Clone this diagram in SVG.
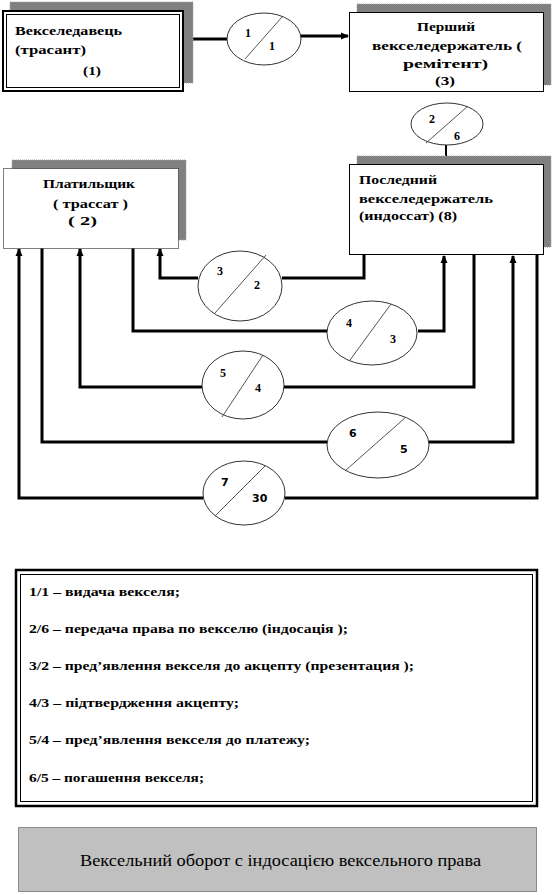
<svg xmlns="http://www.w3.org/2000/svg" width="554" height="895" viewBox="0 0 554 895">
<style>
.shadow{fill:#808080;stroke:#a0a0a0;stroke-width:1;stroke-dasharray:1 1}
.box{fill:#fff;stroke:#000;stroke-width:1}
.t{font-family:'Liberation Serif','DejaVu Serif',serif;font-weight:bold;font-size:13px;fill:#000}
.n{font-family:'Liberation Serif','DejaVu Serif',serif;font-weight:bold;font-size:12px;fill:#000}
.ns{font-family:'DejaVu Sans','Liberation Sans',sans-serif;font-weight:bold;font-size:11px;fill:#000}
.ell{fill:#fff;stroke:#333;stroke-width:1}
.diag{stroke:#555;stroke-width:1}
.con{fill:none;stroke:#000;stroke-width:3}
.lg{font-family:'Liberation Serif','DejaVu Serif',serif;font-weight:bold;font-size:13px;fill:#000}
.tt{font-family:'Liberation Serif','DejaVu Serif',serif;font-size:16px;fill:#000}
</style>
<defs>
<marker id="arr" markerWidth="8" markerHeight="8" refX="7" refY="4" orient="auto" markerUnits="userSpaceOnUse">
<path d="M0,0.5 L8,4 L0,7.5 Z" fill="#000"/>
</marker>
</defs>
<rect width="554" height="895" fill="#fff"/>

<g id="connectors">
<path class="con" d="M184,39 H228"/>
<path class="con" d="M300,36 H348" marker-end="url(#arr)"/>
<path class="con" d="M446,145 V163" style="stroke-width:2" marker-end="url(#arr)"/>
<path class="con" d="M364,255 V278 H282"/>
<path class="con" d="M198,278 H160 V249" marker-end="url(#arr)"/>
<path class="con" d="M133,248 V331 H327"/>
<path class="con" d="M418,331 H444 V256" marker-end="url(#arr)"/>
<path class="con" d="M474,255 V387 H284"/>
<path class="con" d="M202,387 H80 V249" marker-end="url(#arr)"/>
<path class="con" d="M42,248 V442 H327"/>
<path class="con" d="M429,442 H513 V256" marker-end="url(#arr)"/>
<path class="con" d="M537,255 V498 H285"/>
<path class="con" d="M203,498 H19 V249" marker-end="url(#arr)"/>
</g>

<g id="n1">
<rect class="shadow" x="10" y="2" width="183" height="81"/>
<rect x="3" y="11" width="180" height="80" fill="#fff" stroke="#000" stroke-width="2"/>
<rect x="6.5" y="14.5" width="173" height="73" fill="none" stroke="#000" stroke-width="1"/>
<text class="t" x="15" y="35" textLength="107" lengthAdjust="spacingAndGlyphs">Векселедавець</text>
<text class="t" x="15" y="54" textLength="71" lengthAdjust="spacingAndGlyphs">(трасант)</text>
<text class="t" x="83" y="75" textLength="18" lengthAdjust="spacingAndGlyphs">(1)</text>
</g>

<g id="n3">
<rect class="shadow" x="357" y="4" width="194" height="81"/>
<rect class="box" x="349.5" y="12.5" width="194" height="79"/>
<text class="t" x="417" y="31" textLength="58" lengthAdjust="spacingAndGlyphs">Перший</text>
<text class="t" x="372" y="50" textLength="150" lengthAdjust="spacingAndGlyphs">векселедержатель  (</text>
<text class="t" x="403" y="68" textLength="85" lengthAdjust="spacingAndGlyphs">ремітент)</text>
<text class="t" x="435" y="85" textLength="20" lengthAdjust="spacingAndGlyphs">(3)</text>
</g>

<g id="n2">
<rect class="shadow" x="12" y="160" width="174" height="80"/>
<rect x="3.5" y="168.5" width="175" height="80" fill="#fff" stroke="#000" stroke-width="1" stroke-dasharray="1 1"/>
<text class="t" x="43" y="188" textLength="92" lengthAdjust="spacingAndGlyphs">Платильщик</text>
<text class="t" x="53" y="208" textLength="75" lengthAdjust="spacingAndGlyphs">( трассат )</text>
<text class="t" x="68" y="225" textLength="29" lengthAdjust="spacingAndGlyphs">( 2)</text>
</g>

<g id="n8">
<rect class="shadow" x="357" y="156" width="194" height="91"/>
<rect class="box" x="349.5" y="164.5" width="194" height="90"/>
<text class="t" x="359" y="184" textLength="78" lengthAdjust="spacingAndGlyphs">Последний</text>
<text class="t" x="359" y="203" textLength="134" lengthAdjust="spacingAndGlyphs">векселедержатель</text>
<text class="t" x="359" y="220" textLength="98" lengthAdjust="spacingAndGlyphs">(индоссат) (8)</text>
</g>

<g id="e11">
<ellipse class="ell" cx="264" cy="39" rx="37" ry="26"/>
<line class="diag" x1="245" y1="59" x2="282" y2="17"/>
<text class="n" x="245" y="37">1</text>
<text class="n" x="269" y="50">1</text>
</g>
<g id="e26">
<ellipse class="ell" cx="447" cy="124" rx="36" ry="21"/>
<line class="diag" x1="426" y1="143" x2="468" y2="106"/>
<text class="n" x="429" y="123">2</text>
<text class="n" x="454" y="140">6</text>
</g>
<g id="e32">
<ellipse class="ell" cx="240" cy="286" rx="42" ry="35"/>
<line class="diag" x1="215" y1="313" x2="266" y2="255"/>
<text class="n" x="217" y="275">3</text>
<text class="n" x="254" y="289">2</text>
</g>
<g id="e43">
<ellipse class="ell" cx="372" cy="333" rx="45" ry="32"/>
<line class="diag" x1="350" y1="360" x2="391" y2="304"/>
<text class="n" x="346" y="327">4</text>
<text class="n" x="390" y="343">3</text>
</g>
<g id="e54">
<ellipse class="ell" cx="243" cy="385" rx="41" ry="34"/>
<line class="diag" x1="222" y1="417" x2="263" y2="355"/>
<text class="n" x="220" y="377">5</text>
<text class="n" x="255" y="392">4</text>
</g>
<g id="e65">
<ellipse class="ell" cx="378" cy="445" rx="51" ry="33"/>
<line class="diag" x1="346" y1="470" x2="406" y2="417"/>
<text class="ns" x="349" y="437">6</text>
<text class="ns" x="400" y="453">5</text>
</g>
<g id="e730">
<ellipse class="ell" cx="244" cy="493" rx="41" ry="32"/>
<line class="diag" x1="215" y1="516" x2="265" y2="466"/>
<text class="ns" x="221" y="486">7</text>
<text class="ns" x="252" y="502">30</text>
</g>

<g id="legend">
<rect x="16" y="570" width="521" height="236" fill="#fff" stroke="#000" stroke-width="2.5"/>
<rect x="20.5" y="574.5" width="512" height="227" fill="none" stroke="#000" stroke-width="1"/>
<text class="lg" x="29" y="596" textLength="151" lengthAdjust="spacingAndGlyphs">1/1 – видача векселя;</text>
<text class="lg" x="29" y="633" textLength="319" lengthAdjust="spacingAndGlyphs">2/6 – передача права  по векселю (індосація );</text>
<text class="lg" x="29" y="670" textLength="385" lengthAdjust="spacingAndGlyphs">3/2 – пред’явлення векселя до акцепту (презентация );</text>
<text class="lg" x="29" y="707" textLength="210" lengthAdjust="spacingAndGlyphs">4/3 – підтвердження акцепту;</text>
<text class="lg" x="29" y="744" textLength="281" lengthAdjust="spacingAndGlyphs">5/4 – пред’явлення векселя до платежу;</text>
<text class="lg" x="29" y="782" textLength="175" lengthAdjust="spacingAndGlyphs">6/5 – погашення  векселя;</text>
</g>

<g id="title">
<rect x="18.5" y="827.5" width="518" height="64" fill="#c0c0c0" stroke="#333" stroke-width="1" stroke-dasharray="1 1"/>
<text class="tt" x="80" y="866" textLength="401" lengthAdjust="spacingAndGlyphs">Вексельний оборот с індосацією вексельного права</text>
</g>
</svg>
